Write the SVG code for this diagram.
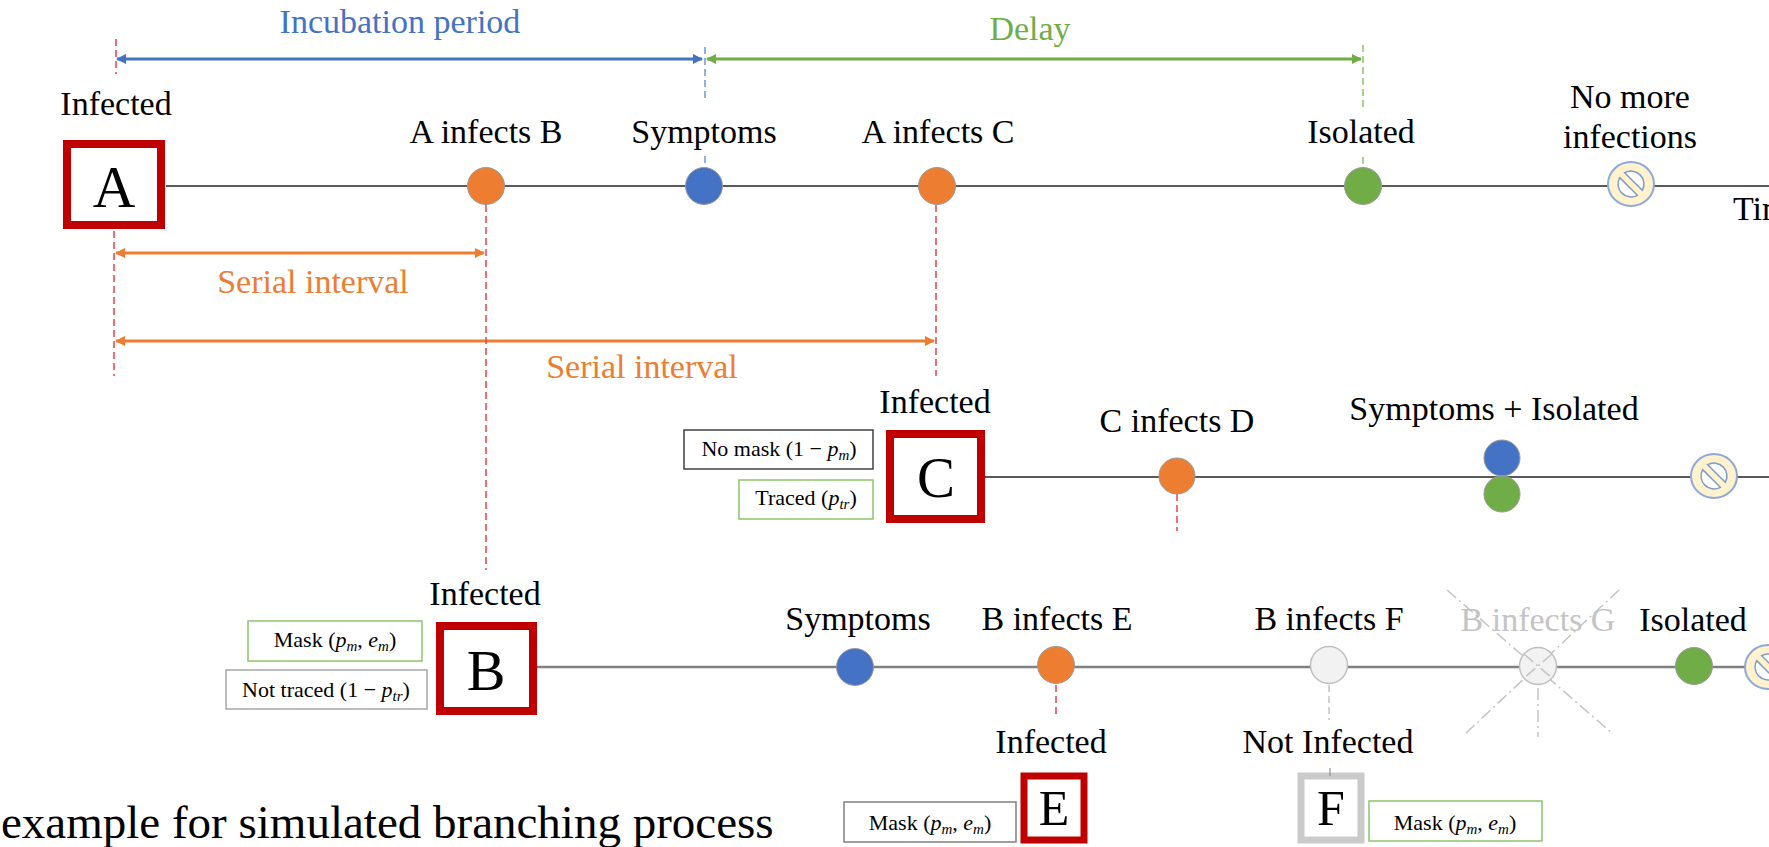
<svg xmlns="http://www.w3.org/2000/svg" width="1769" height="847" viewBox="0 0 1769 847">
<style>
text{fill:#000;text-anchor:middle}
.lbl{font-family:'Liberation Serif',serif;font-size:34px}
.sm{font-family:'Liberation Serif',serif;font-size:22px}
.big{font-family:'Liberation Serif',serif;font-size:58px}
.mid{font-family:'Liberation Serif',serif;font-size:50px}
.cap{font-family:'Liberation Serif',serif;font-size:47px;text-anchor:start}
.it{font-style:italic}
.sub{font-style:italic;font-size:15px}
.tl{stroke:#595959;stroke-width:2.2;fill:none}
.tlb{stroke:#808080;stroke-width:2.5;fill:none}
.rd{stroke:#E8424A;stroke-width:1.5;stroke-dasharray:7 4;fill:none}
.bd{stroke:#6F96D8;stroke-width:1.5;stroke-dasharray:7 4;fill:none}
.gd{stroke:#8CC56A;stroke-width:1.5;stroke-dasharray:7 4;fill:none}
.gyd{stroke:#C4C4C4;stroke-width:1.5;stroke-dasharray:7 4;fill:none}
.xd{stroke:#C4C4C4;stroke-width:1.5;stroke-dasharray:12 4 2 4;fill:none}
.redbox{fill:#fff;stroke:#C00000;stroke-width:8}
.graybox{fill:#fff;stroke:#CACACA;stroke-width:7}
.kbox{fill:#fff;stroke:#404040;stroke-width:1.5}
.gbox{fill:#fff;stroke:#8CC56A;stroke-width:1.5}
.gybox{fill:#fff;stroke:#A6A6A6;stroke-width:1.5}
.dot{stroke:#9a9a9a;stroke-width:1}
.or{fill:#ED7D31}
.bl{fill:#4472C4}
.gr{fill:#70AD47}
.wh{fill:#F2F2F2;stroke:#BFBFBF;stroke-width:1.5}
</style>
<defs>
<marker id="ahB" viewBox="0 0 10 10" refX="9" refY="5" markerWidth="11" markerHeight="10" markerUnits="userSpaceOnUse" orient="auto-start-reverse"><path d="M0,0 L10,5 L0,10 z" fill="#4472C4"/></marker>
<marker id="ahG" viewBox="0 0 10 10" refX="9" refY="5" markerWidth="11" markerHeight="10" markerUnits="userSpaceOnUse" orient="auto-start-reverse"><path d="M0,0 L10,5 L0,10 z" fill="#70AD47"/></marker>
<marker id="ahO" viewBox="0 0 10 10" refX="9" refY="5" markerWidth="11" markerHeight="10" markerUnits="userSpaceOnUse" orient="auto-start-reverse"><path d="M0,0 L10,5 L0,10 z" fill="#ED7D31"/></marker>
<g id="nomore">
<ellipse cx="0" cy="0" rx="23" ry="22" fill="#FFF2CC" stroke="#8EA9DB" stroke-width="2"/>
<g transform="rotate(45)" fill="#FFFFFF" stroke="#7F9CC8" stroke-width="1.5">
<path d="M-12.5,3.5 L12.5,3.5 A13,13 0 0 1 -12.5,3.5 Z"/>
<path d="M-12.5,-3.5 L12.5,-3.5 A13,13 0 0 0 -12.5,-3.5 Z"/>
</g>
</g>
</defs>

<g id="connectors">
<line class="tl" x1="166" y1="186" x2="1769" y2="186"/>
<line class="tl" x1="985" y1="477" x2="1769" y2="477"/>
<line class="tlb" x1="537" y1="667" x2="1769" y2="667"/>
<line x1="117" y1="59" x2="702" y2="59" stroke="#4472C4" stroke-width="3" marker-start="url(#ahB)" marker-end="url(#ahB)"/>
<line x1="707" y1="59" x2="1361" y2="59" stroke="#70AD47" stroke-width="3" marker-start="url(#ahG)" marker-end="url(#ahG)"/>
<line x1="116" y1="253" x2="484" y2="253" stroke="#ED7D31" stroke-width="3" marker-start="url(#ahO)" marker-end="url(#ahO)"/>
<line x1="116" y1="341" x2="934" y2="341" stroke="#ED7D31" stroke-width="3" marker-start="url(#ahO)" marker-end="url(#ahO)"/>
<line class="rd" x1="116" y1="39" x2="116" y2="74"/>
<line class="rd" x1="114" y1="231" x2="114" y2="376"/>
<line class="bd" x1="705" y1="47" x2="705" y2="102"/>
<line class="bd" x1="705" y1="156" x2="705" y2="167"/>
<line class="gd" x1="1363" y1="45" x2="1363" y2="107"/>
<line class="gd" x1="1363" y1="157" x2="1363" y2="167"/>
<line class="rd" x1="486" y1="205" x2="486" y2="570"/>
<line class="rd" x1="936" y1="205" x2="936" y2="376"/>
<line class="rd" x1="1177" y1="494" x2="1177" y2="531"/>
<line class="rd" x1="1056" y1="685" x2="1056" y2="718"/>
<line class="gyd" x1="1329" y1="685" x2="1329" y2="720"/>
<line class="xd" x1="1447" y1="590" x2="1613" y2="734"/>
<line class="xd" x1="1619" y1="590" x2="1466" y2="733"/>
<line class="xd" x1="1538" y1="688" x2="1538" y2="737"/>
</g>

<g id="titles">
<text class="lbl" x="400" y="33" style="fill:#4472C4">Incubation period</text>
<text class="lbl" x="1030" y="40" style="fill:#70AD47">Delay</text>
<text class="lbl" x="313" y="293" style="fill:#ED7D31">Serial interval</text>
<text class="lbl" x="642" y="378" style="fill:#ED7D31">Serial interval</text>
</g>

<g id="node-A">
<text class="lbl" x="116" y="115">Infected</text>
<rect class="redbox" x="67" y="144" width="94" height="81"/>
<text class="big" x="114" y="207" style="font-size:59px">A</text>
</g>
<g id="event-A-infects-B">
<text class="lbl" x="486" y="143">A infects B</text>
<circle class="dot or" cx="486" cy="186" r="18.5"/>
</g>
<g id="event-A-symptoms">
<text class="lbl" x="704" y="143">Symptoms</text>
<circle class="dot bl" cx="704" cy="186" r="18.5"/>
</g>
<g id="event-A-infects-C">
<text class="lbl" x="938" y="143">A infects C</text>
<circle class="dot or" cx="937" cy="186" r="18.5"/>
</g>
<g id="event-A-isolated">
<text class="lbl" x="1361" y="143">Isolated</text>
<circle class="dot gr" cx="1363" cy="186" r="18.5"/>
</g>
<g id="event-A-nomore">
<text class="lbl" x="1630" y="108">No more</text>
<text class="lbl" x="1630" y="148">infections</text>
<use href="#nomore" x="1631" y="184"/>
</g>
<g id="time-label">
<text class="lbl" x="1733" y="220" style="text-anchor:start">Time</text>
</g>

<g id="node-C">
<text class="lbl" x="935" y="413">Infected</text>
<rect class="kbox" x="684" y="430" width="189" height="39"/>
<text class="sm" x="779" y="456">No mask (1 − <tspan class="it">p</tspan><tspan class="sub" dy="4">m</tspan><tspan dy="-4">)</tspan></text>
<rect class="gbox" x="739" y="480" width="134" height="39"/>
<text class="sm" x="806" y="505">Traced (<tspan class="it">p</tspan><tspan class="sub" dy="4">tr</tspan><tspan dy="-4">)</tspan></text>
<rect class="redbox" x="890" y="434" width="91" height="85"/>
<text class="big" x="936" y="497" style="font-size:57px">C</text>
</g>
<g id="event-C-infects-D">
<text class="lbl" x="1177" y="432">C infects D</text>
<circle class="dot or" cx="1177" cy="476" r="18"/>
</g>
<g id="event-C-symptoms-isolated">
<text class="lbl" x="1494" y="420">Symptoms + Isolated</text>
<circle class="dot bl" cx="1502" cy="458" r="18"/>
<circle class="dot gr" cx="1502" cy="494" r="18"/>
</g>
<g id="event-C-nomore">
<use href="#nomore" x="1714" y="476"/>
</g>

<g id="node-B">
<text class="lbl" x="485" y="605">Infected</text>
<rect class="gbox" x="248" y="621" width="174" height="40"/>
<text class="sm" x="335" y="647">Mask (<tspan class="it">p</tspan><tspan class="sub" dy="4">m</tspan><tspan dy="-4">, </tspan><tspan class="it">e</tspan><tspan class="sub" dy="4">m</tspan><tspan dy="-4">)</tspan></text>
<rect class="gybox" x="226" y="670" width="201" height="39"/>
<text class="sm" x="326" y="697">Not traced (1 − <tspan class="it">p</tspan><tspan class="sub" dy="4">tr</tspan><tspan dy="-4">)</tspan></text>
<rect class="redbox" x="440" y="626" width="93" height="85"/>
<text class="big" x="486" y="690">B</text>
</g>
<g id="event-B-symptoms">
<text class="lbl" x="858" y="630">Symptoms</text>
<circle class="dot bl" cx="855" cy="667" r="18.5"/>
</g>
<g id="event-B-infects-E">
<text class="lbl" x="1057" y="630">B infects E</text>
<circle class="dot or" cx="1056" cy="665" r="18.5"/>
</g>
<g id="event-B-infects-F">
<text class="lbl" x="1329" y="630">B infects F</text>
<circle class="wh" cx="1329" cy="665" r="18.5"/>
</g>
<g id="event-B-infects-G">
<text class="lbl" x="1538" y="631" style="fill:#C4C4C4">B infects G</text>
<circle class="wh" cx="1538" cy="666" r="18.5"/>
<line class="xd" x1="1524" y1="654" x2="1552" y2="678"/>
<line class="xd" x1="1552" y1="654" x2="1524" y2="678"/>
</g>
<g id="event-B-isolated">
<text class="lbl" x="1693" y="631">Isolated</text>
<circle class="dot gr" cx="1694" cy="666" r="18.5"/>
</g>
<g id="event-B-nomore">
<use href="#nomore" x="1768" y="667"/>
</g>

<g id="node-E">
<text class="lbl" x="1051" y="753">Infected</text>
<rect class="kbox" x="844" y="802" width="172" height="40" style="stroke:#7F7F7F"/>
<text class="sm" x="930" y="830">Mask (<tspan class="it">p</tspan><tspan class="sub" dy="4">m</tspan><tspan dy="-4">, </tspan><tspan class="it">e</tspan><tspan class="sub" dy="4">m</tspan><tspan dy="-4">)</tspan></text>
<rect class="redbox" x="1024" y="776" width="60" height="64" style="stroke-width:7"/>
<text class="mid" x="1054" y="825">E</text>
</g>
<g id="node-F">
<text class="lbl" x="1328" y="753">Not Infected</text>
<rect class="graybox" x="1301" y="776" width="60" height="64"/>
<line x1="1330" y1="768" x2="1330" y2="776" stroke="#808080" stroke-width="1"/>
<text class="mid" x="1331" y="825">F</text>
<rect class="gbox" x="1369" y="801" width="173" height="40"/>
<text class="sm" x="1455" y="830">Mask (<tspan class="it">p</tspan><tspan class="sub" dy="4">m</tspan><tspan dy="-4">, </tspan><tspan class="it">e</tspan><tspan class="sub" dy="4">m</tspan><tspan dy="-4">)</tspan></text>
</g>

<g id="caption">
<text class="cap" x="1" y="838">example for simulated branching process</text>
</g>
</svg>
